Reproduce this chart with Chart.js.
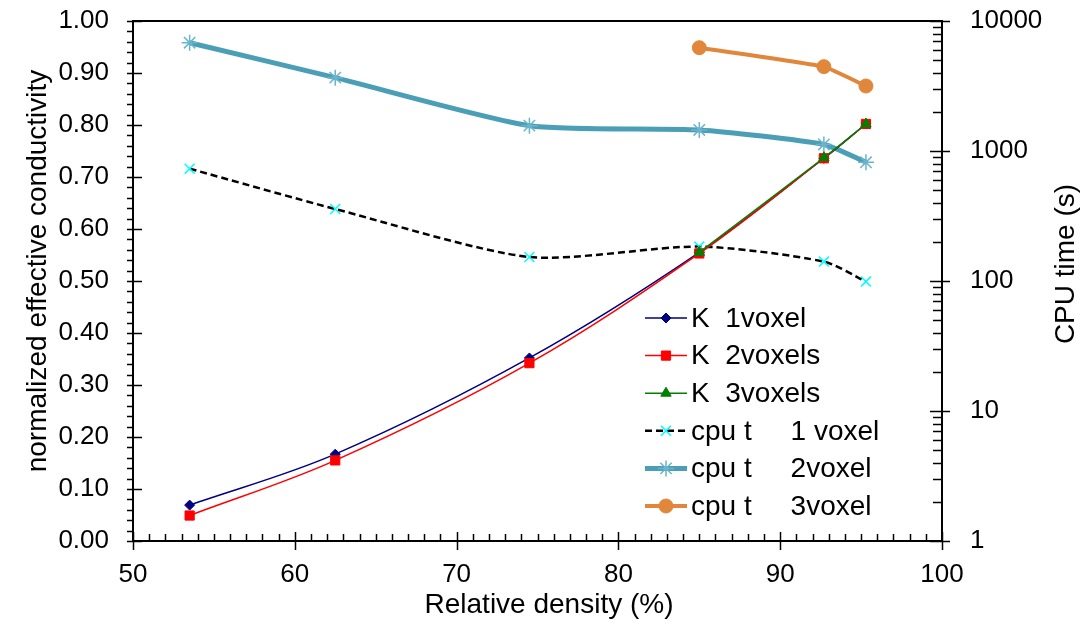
<!DOCTYPE html>
<html>
<head>
<meta charset="utf-8">
<script src="https://cdn.jsdelivr.net/npm/chart.js@4/dist/chart.umd.min.js"></script>
<style>
  html, body { margin: 0; padding: 0; background: #fff; }
  #wrap { width: 1087px; height: 636px; }
</style>
</head>
<body>
<div id="wrap"><canvas id="c" width="1087" height="636"></canvas></div>
<script>
// ── Données ────────────────────────────────────────────────────────────────
const density = [53.5, 62.5, 74.5, 85.0, 92.7, 95.3];          // densité relative (%)
const k1voxel = [0.069, 0.167, 0.352, 0.555, 0.736, 0.802];
const k2voxel = [0.049, 0.155, 0.342, 0.553, 0.736, 0.802];
const k3voxel = [null, null, null, 0.555, 0.737, 0.802];
const cpu1voxel = [731, 358, 153, 184, 141, 99];                 // temps CPU (s)
const cpu2voxel = [6808, 3664, 1566, 1451, 1123, 819];
const cpu3voxel = [null, null, null, 6233, 4454, 3162];

const xTicks = [50, 60, 70, 80, 90, 100];
const leftTicks = [0, 0.1, 0.2, 0.3, 0.4, 0.5, 0.6, 0.7, 0.8, 0.9, 1.0];
const rightTicks = [1, 10, 100, 1000, 10000];

const legendLabels = [
  'K\u00a0 1voxel', 'K\u00a0 2voxels', 'K\u00a0 3voxels',
  'cpu t\u00a0\u00a0\u00a0\u00a0 1 voxel', 'cpu t\u00a0\u00a0\u00a0\u00a0 2voxel', 'cpu t\u00a0\u00a0\u00a0\u00a0 3voxel'
];

const FONT = '"Liberation Sans", Arial, sans-serif';

const pts = vals => density.map((x, i) => ({ x, y: vals[i] }));

// Pas de marge automatique pour les libellés qui débordent
const noPad = s => { s.paddingTop = 0; s.paddingBottom = 0; s.paddingLeft = 0; s.paddingRight = 0; };

// ── Cadre, graduations, titres et légende ──────────────────────────────────
const decor = {
  id: 'decor',
  afterDatasetsDraw(chart) {
    const { ctx, chartArea: a, scales } = chart;
    const x = scales.x, y = scales.y, y1 = scales.y1;
    ctx.save();
    ctx.strokeStyle = '#000';
    ctx.lineWidth = 2;
    ctx.strokeRect(a.left, a.top, a.right - a.left, a.bottom - a.top);

    ctx.lineWidth = 1.5;
    const line = (x0, y0, x2, y2) => {
      ctx.beginPath(); ctx.moveTo(x0, y0); ctx.lineTo(x2, y2); ctx.stroke();
    };
    // axe X : mineures tous les 1 %, majeures tous les 10 %
    for (let v = 50; v <= 100; v += 1) {
      const px = Math.round(x.getPixelForValue(v)) + 0.5;
      if (v % 10 === 0) line(px, a.bottom - 9, px, a.bottom + 9);
      else line(px, a.bottom - 7, px, a.bottom);
    }
    // axe gauche : mineures tous les 0.02
    for (let i = 0; i <= 50; i++) {
      const py = Math.round(y.getPixelForValue(i / 50)) + 0.5;
      if (i % 5 === 0) line(a.left - 6, py, a.left + 9, py);
      else line(a.left - 6, py, a.left, py);
    }
    // axe droit (log) : mineures 2..9
    for (let d = 1; d <= 10000; d *= 10) {
      const py = Math.round(y1.getPixelForValue(d)) + 0.5;
      line(a.right - 12, py, a.right + 8, py);
      if (d < 10000) {
        for (let m = 2; m <= 9; m++) {
          const pm = Math.round(y1.getPixelForValue(d * m)) + 0.5;
          line(a.right - 9, pm, a.right, pm);
        }
      }
    }

    // titres d'axes
    ctx.fillStyle = '#000';
    ctx.font = '28px ' + FONT;
    ctx.textAlign = 'center';
    ctx.textBaseline = 'middle';
    ctx.fillText('Relative density (%)', 549, 605);
    ctx.save();
    ctx.translate(38, 271);
    ctx.rotate(-Math.PI / 2);
    ctx.fillText('normalized effective conductivity', 0, 0);
    ctx.restore();
    ctx.save();
    ctx.translate(1066, 264);
    ctx.rotate(-Math.PI / 2);
    ctx.fillText('CPU time (s)', 0, 0);
    ctx.restore();

    // légende
    const ds = chart.data.datasets;
    ctx.textAlign = 'left';
    ctx.font = '28px ' + FONT;
    ds.forEach((d, i) => {
      const cy = 318 + i * 37.6;
      ctx.save();
      ctx.strokeStyle = d.borderColor;
      ctx.lineWidth = d.borderWidth;
      ctx.setLineDash(d.borderDash || []);
      line(645, cy, 687, cy);
      ctx.restore();
      ctx.save();
      ctx.fillStyle = d.pointBackgroundColor;
      ctx.strokeStyle = d.pointBorderColor;
      ctx.lineWidth = d.pointBorderWidth;
      Chart.helpers.drawPoint(ctx, {
        pointStyle: d.pointStyle, radius: d.pointRadius, rotation: 0,
        borderWidth: d.pointBorderWidth
      }, 666, cy);
      ctx.restore();
      ctx.fillStyle = '#000';
      ctx.fillText(legendLabels[i], 691, cy + 1);
    });
    ctx.restore();
  }
};

new Chart(document.getElementById('c'), {
  type: 'line',
  data: {
    datasets: [
      { label: legendLabels[0], data: pts(k1voxel), yAxisID: 'y', order: 2,
        borderColor: '#000080', borderWidth: 1.5, tension: 0.35,
        pointStyle: 'rectRot', pointRadius: 5, pointBackgroundColor: '#000080',
        pointBorderColor: '#000080', pointBorderWidth: 1 },
      { label: legendLabels[1], data: pts(k2voxel), yAxisID: 'y', order: 1,
        borderColor: '#ff0000', borderWidth: 1.5, tension: 0.35,
        pointStyle: 'rect', pointRadius: 6.5, pointBackgroundColor: '#ff0000',
        pointBorderColor: '#ff0000', pointBorderWidth: 1 },
      { label: legendLabels[2], data: pts(k3voxel), yAxisID: 'y', order: 0,
        borderColor: '#008000', borderWidth: 1.5, tension: 0.35,
        pointStyle: 'triangle', pointRadius: 6, pointBackgroundColor: '#008000',
        pointBorderColor: '#008000', pointBorderWidth: 1 },
      { label: legendLabels[3], data: pts(cpu1voxel), yAxisID: 'y1', order: 3,
        borderColor: '#000000', borderWidth: 2.5, borderDash: [7, 4], tension: 0.25,
        pointStyle: 'crossRot', pointRadius: 7, pointBackgroundColor: '#00ffff',
        pointBorderColor: '#00ffff', pointBorderWidth: 1.5 },
      { label: legendLabels[4], data: pts(cpu2voxel), yAxisID: 'y1', order: 4,
        borderColor: '#4a9fb7', borderWidth: 5, tension: 0.2,
        pointStyle: 'star', pointRadius: 8, pointBackgroundColor: '#6ab4cc',
        pointBorderColor: '#6ab4cc', pointBorderWidth: 1.5 },
      { label: legendLabels[5], data: pts(cpu3voxel), yAxisID: 'y1', order: 5,
        borderColor: '#e0873c', borderWidth: 4, tension: 0.1,
        pointStyle: 'circle', pointRadius: 7, pointBackgroundColor: '#e0873c',
        pointBorderColor: '#e0873c', pointBorderWidth: 1 }
    ]
  },
  options: {
    responsive: false,
    devicePixelRatio: 1,
    animation: false,
    spanGaps: false,
    layout: { padding: { top: 21, left: 0, right: 0, bottom: 0 } },
    plugins: { legend: { display: false }, tooltip: { enabled: false } },
    scales: {
      x: {
        type: 'linear', min: 50, max: 100,
        afterBuildTicks: s => { s.ticks = xTicks.map(v => ({ value: v })); },
        afterFit: s => { s.height = 95; noPad(s); },
        grid: { display: false, drawTicks: false },
        border: { display: false },
        ticks: { color: '#000', font: { family: FONT, size: 26 }, padding: 18, maxRotation: 0 }
      },
      y: {
        position: 'left', min: 0, max: 1,
        afterBuildTicks: s => { s.ticks = leftTicks.map(v => ({ value: v })); },
        afterFit: s => { s.width = 133; noPad(s); },
        grid: { display: false, drawTicks: false },
        border: { display: false },
        ticks: { color: '#000', font: { family: FONT, size: 26 }, padding: 24,
                 callback: v => Number(v).toFixed(2) }
      },
      y1: {
        type: 'logarithmic', position: 'right', min: 1, max: 10000,
        afterBuildTicks: s => { s.ticks = rightTicks.map(v => ({ value: v })); },
        afterFit: s => { s.width = 145; noPad(s); },
        grid: { display: false, drawTicks: false },
        border: { display: false },
        ticks: { color: '#000', font: { family: FONT, size: 26 }, padding: 28,
                 callback: v => String(v) }
      }
    }
  },
  plugins: [decor]
});
</script>
</body>
</html>
